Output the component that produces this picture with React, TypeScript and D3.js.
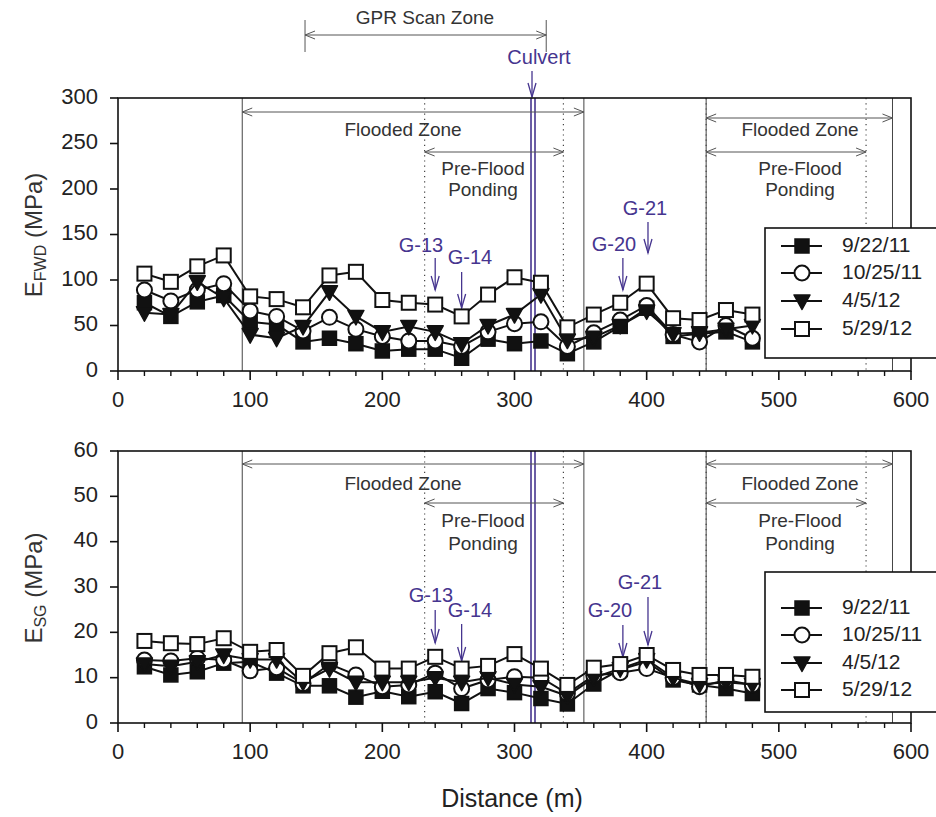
import React from 'react';
import * as d3 from 'd3';

// ---------- DATA ----------
const distance = [20, 40, 60, 80, 100, 120, 140, 160, 180, 200, 220, 240, 260, 280, 300, 320, 340, 360, 380, 400, 420, 440, 460, 480];

const seriesLabels = ['9/22/11', '10/25/11', '4/5/12', '5/29/12'];

const fwd_092211 = [75, 60, 76, 83, 54, 51, 32, 36, 30, 22, 24, 24, 14, 35, 30, 33, 19, 32, 49, 69, 38, 41, 43, 32];
const fwd_102511 = [89, 77, 89, 96, 66, 60, 44, 59, 46, 38, 33, 33, 27, 43, 52, 54, 27, 42, 56, 72, 40, 32, 50, 36];
const fwd_040512 = [64, 62, 98, 80, 40, 36, 49, 87, 60, 43, 49, 43, 30, 50, 62, 84, 34, 37, 50, 66, 41, 42, 46, 50];
const fwd_052912 = [107, 98, 115, 127, 82, 79, 70, 105, 109, 78, 75, 73, 60, 84, 103, 97, 48, 62, 75, 96, 58, 56, 67, 62];

const sg_092211 = [12.4, 10.6, 11.3, 13.2, 13.5, 11, 8.2, 8.2, 5.7, 7, 5.8, 6.9, 4.3, 7.6, 6.7, 5.4, 4.2, 8.6, 11.8, 13.5, 9.5, 8.4, 7.6, 6.5];
const sg_102511 = [13.9, 13.7, 14.3, 13.9, 11.5, 12.2, 8.7, 13, 10.6, 8, 8.4, 11, 7.6, 9.5, 10.2, 10, 6.5, 10.5, 11.1, 12, 10, 8, 9.5, 8.4];
const sg_040512 = [13, 12.5, 13.5, 15, 14, 14, 9, 12, 9, 9, 9, 10, 9, 10, 8.5, 8, 6, 10, 12, 14, 10, 8.5, 9, 8.5];
const sg_052912 = [18.1, 17.6, 17.4, 18.7, 15.7, 16.1, 10.4, 15.4, 16.7, 12, 12, 14.6, 12, 12.6, 15.2, 12, 8.4, 12.2, 13, 15, 11.7, 10.6, 10.6, 10.2];

const xTicks = [0, 100, 200, 300, 400, 500, 600];
const xMinorTicks = [20, 40, 60, 80, 120, 140, 160, 180, 220, 240, 260, 280, 320, 340, 360, 380, 420, 440, 460, 480, 520, 540, 560, 580];
const fwdTicks = [0, 50, 100, 150, 200, 250, 300];
const sgTicks = [0, 10, 20, 30, 40, 50, 60];

// zone boundaries (m)
const floodedZones = [[94, 352.5], [445, 586]];
const pondingZones = [[232, 337], [445, 566]];
const culvertAt = 314;
const gprZone = [141.5, 324];
const gaugeNames = ['G-13', 'G-14', 'G-20', 'G-21'];
const gaugeAt = [240, 260, 382, 401];

// ---------- LAYOUT ----------
const FONT = 'Liberation Sans, Arial, Helvetica, sans-serif';
const PURPLE = '#46358f';
const GREY = '#555';
const TEXT = '#333';

const x = d3.scaleLinear().domain([0, 600]).range([118, 911]);
const yTop = d3.scaleLinear().domain([0, 300]).range([371, 98]);
const yBot = d3.scaleLinear().domain([0, 60]).range([723, 451]);

type MarkerType = 'fsq' | 'circ' | 'tri' | 'osq';
const markerTypes: MarkerType[] = ['fsq', 'circ', 'tri', 'osq'];

function Marker({ type, cx, cy }: { type: MarkerType; cx: number; cy: number }) {
  const s = 14;
  if (type === 'fsq')
    return <rect x={cx - s / 2} y={cy - s / 2} width={s} height={s} fill="#111" stroke="#111" strokeWidth={1.5} />;
  if (type === 'osq')
    return <rect x={cx - s / 2} y={cy - s / 2} width={s} height={s} fill="#fff" stroke="#111" strokeWidth={2} />;
  if (type === 'circ') return <circle cx={cx} cy={cy} r={7.5} fill="#fff" stroke="#111" strokeWidth={2} />;
  return (
    <path
      d={`M${cx - 8},${cy - 6} L${cx + 8},${cy - 6} L${cx},${cy + 8.5} Z`}
      fill="#111"
      stroke="#111"
      strokeWidth={1.5}
      strokeLinejoin="round"
    />
  );
}

function HArrow({ x1, x2, y }: { x1: number; x2: number; y: number }) {
  return (
    <g stroke={GREY} strokeWidth={1} fill="none">
      <line x1={x1} x2={x2} y1={y} y2={y} />
      <path d={`M${x1 + 10},${y - 4} L${x1},${y} L${x1 + 10},${y + 4}`} />
      <path d={`M${x2 - 10},${y - 4} L${x2},${y} L${x2 - 10},${y + 4}`} />
    </g>
  );
}

function VArrow({ xp, y1, y2 }: { xp: number; y1: number; y2: number }) {
  return (
    <g stroke={PURPLE} strokeWidth={1.3} fill="none">
      <line x1={xp} x2={xp} y1={y1} y2={y2} />
      <path d={`M${xp - 4},${y2 - 14} L${xp},${y2} L${xp + 4},${y2 - 14}`} />
    </g>
  );
}

type PanelProps = {
  y: d3.ScaleLinear<number, number>;
  ticks: number[];
  series: number[][];
  floodArrowY: number[];
  floodTextY: number;
  pondArrowY: number;
  pondTextY: number[];
  gauges: { tx: number; ty: number; y1: number; y2: number }[];
  legendBox: [number, number, number, number];
  legendRows: number[];
  ylabelSub: string;
  ylabelCenter: number;
};

const ANN = 19;

function Panel(p: PanelProps) {
  const [y0, y1] = p.y.range();
  const line = d3
    .line<number>()
    .x((_, i) => x(distance[i]))
    .y((v) => p.y(v));
  return (
    <g>
      {/* zone lines */}
      {floodedZones.map((z, i) =>
        [z[0], z[1]].map((d, j) => (
          <line key={`f${i}${j}`} x1={x(d)} x2={x(d)} y1={y1} y2={y0} stroke="#444" strokeWidth={1} />
        ))
      )}
      {pondingZones.map((z, i) =>
        [z[0], z[1]].map((d, j) => (
          <line key={`p${i}${j}`} x1={x(d)} x2={x(d)} y1={y1} y2={y0} stroke="#444" strokeWidth={1.2} strokeDasharray="1.2,4" />
        ))
      )}
      {/* culvert */}
      <line x1={x(culvertAt) - 2} x2={x(culvertAt) - 2} y1={y1} y2={y0} stroke={PURPLE} strokeWidth={1.6} />
      <line x1={x(culvertAt) + 2} x2={x(culvertAt) + 2} y1={y1} y2={y0} stroke={PURPLE} strokeWidth={1.6} />

      {/* zone annotations */}
      <HArrow x1={x(floodedZones[0][0])} x2={x(floodedZones[0][1])} y={p.floodArrowY[0]} />
      <text x={403} y={p.floodTextY} fontSize={ANN} fill={TEXT} textAnchor="middle" dominantBaseline="middle">Flooded Zone</text>
      <HArrow x1={x(floodedZones[1][0])} x2={x(floodedZones[1][1])} y={p.floodArrowY[1]} />
      <text x={800} y={p.floodTextY} fontSize={ANN} fill={TEXT} textAnchor="middle" dominantBaseline="middle">Flooded Zone</text>
      <HArrow x1={x(pondingZones[0][0])} x2={x(pondingZones[0][1])} y={p.pondArrowY} />
      <text x={483} y={p.pondTextY[0]} fontSize={ANN} fill={TEXT} textAnchor="middle" dominantBaseline="middle">Pre-Flood</text>
      <text x={483} y={p.pondTextY[1]} fontSize={ANN} fill={TEXT} textAnchor="middle" dominantBaseline="middle">Ponding</text>
      <HArrow x1={x(pondingZones[1][0])} x2={x(pondingZones[1][1])} y={p.pondArrowY} />
      <text x={800} y={p.pondTextY[0]} fontSize={ANN} fill={TEXT} textAnchor="middle" dominantBaseline="middle">Pre-Flood</text>
      <text x={800} y={p.pondTextY[1]} fontSize={ANN} fill={TEXT} textAnchor="middle" dominantBaseline="middle">Ponding</text>

      {/* gauges */}
      {p.gauges.map((g, i) => (
        <g key={`g${i}`}>
          <text x={g.tx} y={g.ty} fontSize={20} fill={PURPLE} textAnchor="middle" dominantBaseline="middle">{gaugeNames[i]}</text>
          <VArrow xp={x(gaugeAt[i])} y1={g.y1} y2={g.y2} />
        </g>
      ))}

      {/* series */}
      {p.series.map((s, si) => (
        <g key={`s${si}`}>
          <path d={line(s) || ''} fill="none" stroke="#111" strokeWidth={2} />
          {s.map((v, i) => (
            <Marker key={i} type={markerTypes[si]} cx={x(distance[i])} cy={p.y(v)} />
          ))}
        </g>
      ))}

      {/* frame */}
      <rect x={x(0)} y={y1} width={x(600) - x(0)} height={y0 - y1} fill="none" stroke="#111" strokeWidth={1.6} />

      {/* x axis ticks */}
      {xTicks.map((t) => (
        <g key={`xt${t}`}>
          <line x1={x(t)} x2={x(t)} y1={y0} y2={y0 + 9} stroke="#111" strokeWidth={1.6} />
          <text x={x(t)} y={y0 + 30} fontSize={22} fill="#222" textAnchor="middle" dominantBaseline="middle">{t}</text>
        </g>
      ))}
      {xMinorTicks.map((t) => (
        <line key={`xm${t}`} x1={x(t)} x2={x(t)} y1={y0} y2={y0 + 5} stroke="#111" strokeWidth={1.4} />
      ))}
      {/* y axis ticks */}
      {p.ticks.map((t) => (
        <g key={`yt${t}`}>
          <line x1={x(0) - 8} x2={x(0)} y1={p.y(t)} y2={p.y(t)} stroke="#111" strokeWidth={1.6} />
          <text x={x(0) - 20} y={p.y(t)} fontSize={22} fill="#222" textAnchor="end" dominantBaseline="middle">{t}</text>
        </g>
      ))}
      {/* y label */}
      <text transform={`translate(36,${p.ylabelCenter}) rotate(-90)`} fontSize={24} fill="#333" textAnchor="middle" dominantBaseline="middle">
        E<tspan fontSize={16} dy={6}>{p.ylabelSub}</tspan>
        <tspan dy={-6}> (MPa)</tspan>
      </text>

      {/* legend */}
      <rect x={p.legendBox[0]} y={p.legendBox[1]} width={p.legendBox[2]} height={p.legendBox[3]} fill="#fff" stroke="#111" strokeWidth={1.6} />
      {seriesLabels.map((lab, i) => (
        <g key={`l${i}`}>
          <line x1={781} x2={822} y1={p.legendRows[i]} y2={p.legendRows[i]} stroke="#111" strokeWidth={2} />
          <Marker type={markerTypes[i]} cx={802} cy={p.legendRows[i]} />
          <text x={842} y={p.legendRows[i]} fontSize={21} fill="#222" dominantBaseline="middle">{lab}</text>
        </g>
      ))}
    </g>
  );
}

export default function App() {
  return (
    <svg
      width={936}
      height={817}
      viewBox="0 0 936 817"
      style={{ position: 'absolute', left: 0, top: 0, background: '#fff', fontFamily: FONT }}
    >
      <rect x={0} y={0} width={936} height={817} fill="#fff" />
      {/* GPR scan zone */}
      <line x1={x(gprZone[0])} x2={x(gprZone[0])} y1={20} y2={52} stroke={GREY} strokeWidth={1} />
      <line x1={x(gprZone[1])} x2={x(gprZone[1])} y1={20} y2={52} stroke={GREY} strokeWidth={1} />
      <HArrow x1={x(gprZone[0])} x2={x(gprZone[1])} y={35} />
      <text x={425} y={19} fontSize={19} fill={TEXT} textAnchor="middle" dominantBaseline="middle">GPR Scan Zone</text>
      {/* culvert label */}
      <text x={539} y={59} fontSize={20} fill={PURPLE} textAnchor="middle" dominantBaseline="middle">Culvert</text>
      <VArrow xp={x(culvertAt) - 1} y1={71} y2={97} />

      <Panel
        y={yTop}
        ticks={fwdTicks}
        series={[fwd_092211, fwd_102511, fwd_040512, fwd_052912]}
        floodArrowY={[112, 118]}
        floodTextY={131}
        pondArrowY={152}
        pondTextY={[170, 191]}
        gauges={[
          { tx: 421, ty: 247, y1: 258, y2: 290 },
          { tx: 470, ty: 259, y1: 272, y2: 308 },
          { tx: 614, ty: 246, y1: 258, y2: 290 },
          { tx: 645, ty: 210, y1: 222, y2: 253 },
        ]}
        legendBox={[765, 228, 175, 130]}
        legendRows={[246, 273, 301, 329]}
        ylabelSub="FWD"
        ylabelCenter={235}
      />
      <Panel
        y={yBot}
        ticks={sgTicks}
        series={[sg_092211, sg_102511, sg_040512, sg_052912]}
        floodArrowY={[464, 464]}
        floodTextY={485}
        pondArrowY={503}
        pondTextY={[522, 545]}
        gauges={[
          { tx: 431, ty: 597, y1: 610, y2: 643 },
          { tx: 470, ty: 612, y1: 624, y2: 661 },
          { tx: 610, ty: 612, y1: 625, y2: 657 },
          { tx: 640, ty: 584, y1: 597, y2: 645 },
        ]}
        legendBox={[765, 572, 175, 140]}
        legendRows={[608, 635, 663, 690]}
        ylabelSub="SG"
        ylabelCenter={588}
      />
      <text x={512} y={800} fontSize={25} fill="#222" textAnchor="middle" dominantBaseline="middle">Distance (m)</text>
    </svg>
  );
}
